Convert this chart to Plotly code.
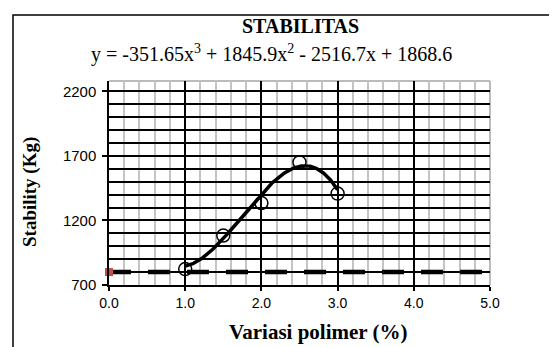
import numpy as np
import plotly.graph_objects as go

# Data
polymer = [1.0, 1.5, 2.0, 2.5, 3.0]
stability = [823, 1083, 1335, 1650, 1408]
trend_coefs = [-351.65, 1845.9, -2516.7, 1868.6]
spec_x = [0.0, 5.0]
spec_y = [800, 800]
x_ticks = [0.0, 1.0, 2.0, 3.0, 4.0, 5.0]
x_tick_labels = ["0.0", "1.0", "2.0", "3.0", "4.0", "5.0"]
y_ticks = [700, 1200, 1700, 2200]
title_text = "STABILITAS"
equation_text = "y = -351.65x<sup>3</sup> + 1845.9x<sup>2</sup> - 2516.7x + 1868.6"
x_title = "Variasi polimer (%)"
y_title = "Stability (Kg)"

W, H = 557, 347
L, R, T, B = 101, 482, 73, 277

fit_x = np.linspace(min(polymer), max(polymer), 200)
fit_y = np.polyval(trend_coefs, fit_x)

fig = go.Figure()
fig.add_trace(go.Scatter(x=spec_x, y=spec_y, mode="lines",
                         line=dict(color="black", width=4.5, dash="22px,17px"),
                         hoverinfo="skip"))
fig.add_trace(go.Scatter(x=[spec_x[0]], y=[spec_y[0]], mode="markers",
                         marker=dict(symbol="square", size=8, color="#c0504d"),
                         cliponaxis=False, hoverinfo="skip"))
fig.add_trace(go.Scatter(x=polymer, y=stability, mode="markers",
                         marker=dict(symbol="circle-open", size=13,
                                     color="black", line=dict(width=1.5))))
fig.add_trace(go.Scatter(x=fit_x, y=fit_y, mode="lines",
                         line=dict(color="black", width=3.5), hoverinfo="skip"))

serif = "Liberation Serif, Times New Roman, serif"
sans = "Liberation Sans, Arial, sans-serif"

pw, ph = R - L, B - T
def px_x(p):
    return (p - L) / pw
def px_y(p):
    return (B - p) / ph

fig.update_layout(
    width=W, height=H,
    margin=dict(l=L, r=W - R, t=T, b=H - B),
    paper_bgcolor="white", plot_bgcolor="white",
    showlegend=False,
    xaxis=dict(range=[0, 5], tickvals=x_ticks, ticktext=x_tick_labels,
               showgrid=True, gridcolor="black", gridwidth=1.5,
               minor=dict(dtick=0.2, tick0=0, showgrid=True,
                          gridcolor="#c4c4c4", gridwidth=1.5),
               showline=True, linecolor="black", linewidth=1.5,
               ticks="outside", ticklen=4, tickcolor="black", tickwidth=1.5,
               tickfont=dict(family=sans, size=14, color="black"),
               zeroline=False, fixedrange=True),
    yaxis=dict(range=[700, 2280], tickvals=y_ticks,
               showgrid=True, gridcolor="black", gridwidth=1.5,
               minor=dict(dtick=100, tick0=700, showgrid=True,
                          gridcolor="black", gridwidth=1.5),
               showline=True, linecolor="black", linewidth=1.5,
               ticks="outside", ticklen=5, tickcolor="black", tickwidth=1.5,
               ticklabelstandoff=3,
               tickfont=dict(family=sans, size=15, color="black"),
               zeroline=False, fixedrange=True),
    shapes=[
        dict(type="line", xref="paper", yref="paper", x0=0, x1=1, y0=1, y1=1,
             line=dict(color="#a6a6a6", width=1.5), layer="between"),
        dict(type="line", xref="paper", yref="paper", x0=1, x1=1, y0=0, y1=1,
             line=dict(color="#a6a6a6", width=1.5), layer="between"),
        dict(type="rect", xref="paper", yref="paper",
             x0=px_x(5), x1=px_x(547), y0=px_y(360), y1=px_y(7),
             line=dict(color="black", width=1.5), layer="below"),
    ],
    annotations=[
        dict(text="<b>" + title_text + "</b>", xref="paper", yref="paper",
             x=px_x(292), y=px_y(18), xanchor="center", yanchor="middle",
             showarrow=False, font=dict(family=serif, size=20, color="black")),
        dict(text=equation_text, xref="paper", yref="paper",
             x=px_x(263), y=px_y(45), xanchor="center", yanchor="middle",
             showarrow=False, font=dict(family=serif, size=20, color="black")),
        dict(text="<b>" + x_title + "</b>", xref="paper", yref="paper",
             x=px_x(310), y=px_y(324), xanchor="center", yanchor="middle",
             showarrow=False, font=dict(family=serif, size=21, color="black")),
        dict(text="<b>" + y_title + "</b>", xref="paper", yref="paper",
             x=px_x(22), y=px_y(184), xanchor="center", yanchor="middle",
             textangle=-90, showarrow=False,
             font=dict(family=serif, size=19, color="black")),
    ],
)

fig.write_html("out.html")
